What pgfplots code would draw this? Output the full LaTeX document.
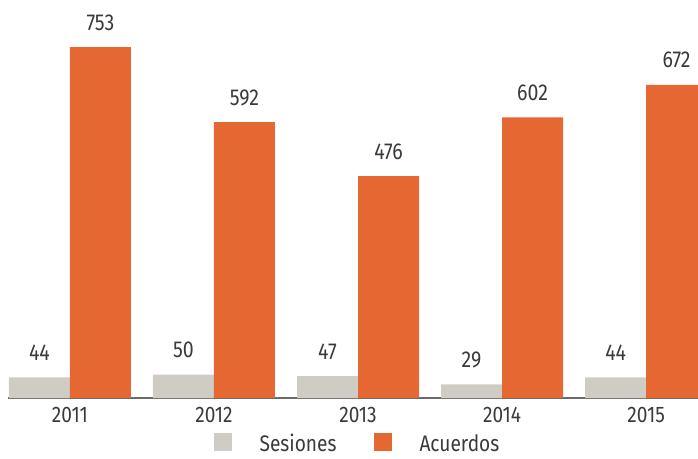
\documentclass[border=0pt]{standalone}
\usepackage{pgfplots}
\pgfplotsset{compat=1.18}
\usepackage{fontspec}
\setmainfont{Fira Sans}[FakeStretch=0.85]
\definecolor{orangeA}{HTML}{E56731}
\definecolor{greyS}{HTML}{CFCCC5}
\definecolor{txt}{HTML}{3A3A3A}
\definecolor{axln}{HTML}{6B6B6B}
\begin{document}
\begin{tikzpicture}
\path[use as bounding box] (0pt,0pt) rectangle (698pt,458pt);
\begin{axis}[
  at={(8pt,60pt)}, anchor=south west,
  scale only axis, width=690pt, height=398pt,
  xmin=-0.43, xmax=4.36, ymin=0, ymax=854,
  /pgf/number format/assume math mode=true,
  axis x line*=bottom, axis y line=none,
  x axis line style={draw=axln, line width=1.3pt, -},
  xtick={0,1,2,3,4}, xticklabels={2011,2012,2013,2014,2015},
  major tick length=0pt,
  xticklabel style={font=\fontsize{22.5}{25}\selectfont, text=txt, inner sep=0pt, yshift=-9pt},
  ybar, bar width=61pt,
  nodes near coords,
  every node near coord/.append style={font=\fontsize{23}{26}\selectfont, text=txt, inner sep=0pt, yshift=17pt, anchor=base},
  legend columns=2,
  legend style={draw=none, at={(0.505,-0.1136)}, anchor=center, fill=none,
    nodes={inner sep=0pt, text=txt, font=\fontsize{22.5}{25}\selectfont},
    /tikz/every odd column/.append style={column sep=28pt},
    /tikz/every even column/.append style={column sep=37pt}},
  legend image code/.code={\fill[#1] (0pt,-8pt) rectangle (18pt,10pt);},
]
\addplot[fill=greyS, draw=none, bar shift=-30.5pt] coordinates {(0,44) (1,50) (2,47) (3,29) (4,44)};
\addplot[fill=orangeA, draw=none, bar shift=30.5pt] coordinates {(0,753) (1,592) (2,476) (3,602) (4,672)};
\legend{Sesiones,Acuerdos}
\end{axis}
\end{tikzpicture}
\end{document}
